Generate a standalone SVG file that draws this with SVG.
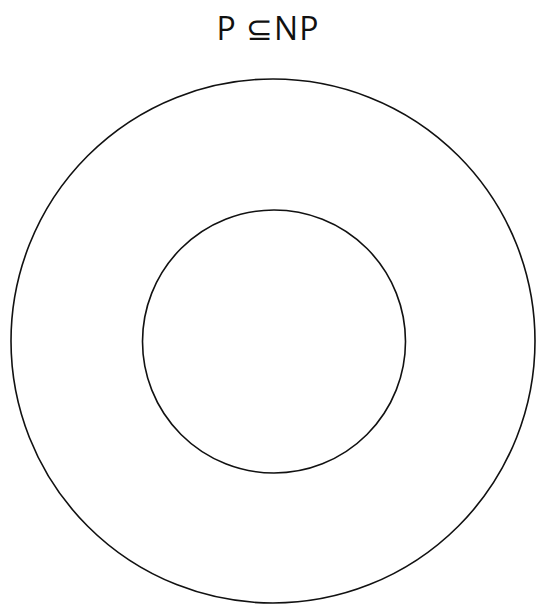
<svg xmlns="http://www.w3.org/2000/svg" width="536" height="604" viewBox="0 0 536 604">
<style>
.c{fill:none;stroke:#111;stroke-width:1.6}
.t{font-family:"Open Sans","Noto Sans",sans-serif;font-size:32px;fill:#111;letter-spacing:1px}
</style>
<rect width="536" height="604" fill="#fff"/>
<g id="title"><text class="t" x="268" y="40" text-anchor="middle">P ⊆NP</text></g>
<g id="NP"><circle class="c" cx="273" cy="341" r="262"/></g>
<g id="P"><circle class="c" cx="274" cy="341.5" r="131.5"/></g>
<g id="connectors"></g>
</svg>
